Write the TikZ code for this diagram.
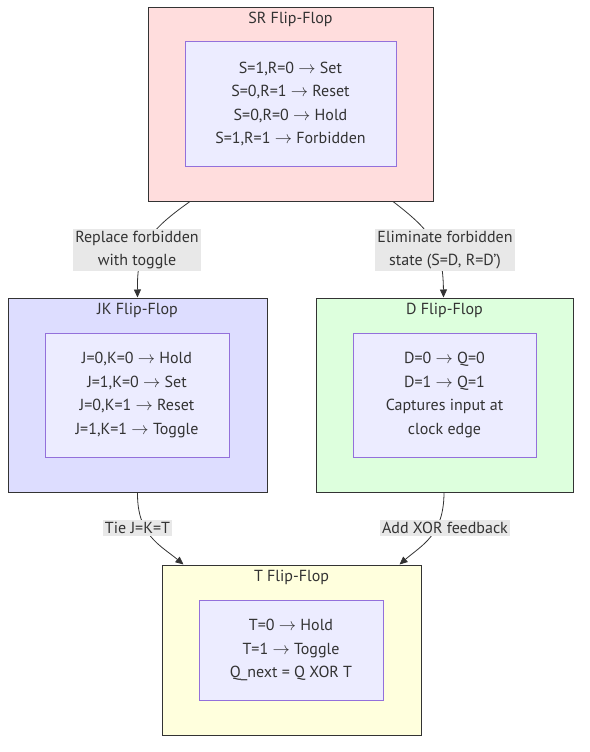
\documentclass[tikz,border=0pt]{standalone}
\usepackage{fontspec}
\setmainfont{PT Sans}
\usetikzlibrary{arrows.meta}

\definecolor{srfill}{HTML}{FFDDDD}
\definecolor{jkfill}{HTML}{DDDDFF}
\definecolor{dfill}{HTML}{DDFFDD}
\definecolor{tfill}{HTML}{FFFFDD}
\definecolor{innerfill}{HTML}{ECECFF}
\definecolor{innerline}{HTML}{9370DB}
\definecolor{darkline}{HTML}{333333}
\definecolor{labelfill}{HTML}{E8E8E8}

\newcommand{\ra}{$\rightarrow$}

\tikzstyle{outerblock} = [rectangle, draw=darkline, line width=1pt, inner sep=0pt]
\tikzstyle{innerblock} = [rectangle, draw=innerline, fill=innerfill, line width=1pt, align=center, text=darkline, font=\fontsize{16}{23.5}\selectfont]
\tikzstyle{titletext} = [text=darkline, font=\fontsize{16}{24}\selectfont]
\tikzstyle{edgelabel} = [rectangle, fill=labelfill, align=center, text=darkline, inner sep=2pt, font=\fontsize{16}{23.5}\selectfont]
\tikzstyle{edge} = [draw=darkline, line width=0.8pt, -{Triangle[length=8pt,width=7pt]}]

\begin{document}
\begin{tikzpicture}[x=1pt, y=-1pt]
\useasboundingbox (0,0) rectangle (589,752);

%Outer blocks
\node (sr) [outerblock, fill=srfill, minimum width=285pt, minimum height=193pt] at (290.5,104.5) {};
\node (jk) [outerblock, fill=jkfill, minimum width=259pt, minimum height=194pt] at (137.5,395) {};
\node (dff) [outerblock, fill=dfill, minimum width=257pt, minimum height=194pt] at (444.5,395) {};
\node (tff) [outerblock, fill=tfill, minimum width=259pt, minimum height=170pt] at (291.5,650) {};

%Titles
\node (srtitle) [titletext] at (290.5,19) {SR Flip-Flop};
\node (jktitle) [titletext] at (137.5,310) {JK Flip-Flop};
\node (dtitle) [titletext] at (444.5,310) {D Flip-Flop};
\node (ttitle) [titletext] at (291.5,577) {T Flip-Flop};

%Inner blocks
\node (srtable) [innerblock, minimum width=211pt, minimum height=124pt] at (290.5,104) {S=1,R=0 \ra{} Set\\ S=0,R=1 \ra{} Reset\\ S=0,R=0 \ra{} Hold\\ S=1,R=1 \ra{} Forbidden};
\node (jktable) [innerblock, minimum width=184pt, minimum height=124pt] at (137,395) {J=0,K=0 \ra{} Hold\\ J=1,K=0 \ra{} Set\\ J=0,K=1 \ra{} Reset\\ J=1,K=1 \ra{} Toggle};
\node (dtable) [innerblock, minimum width=183pt, minimum height=124pt] at (444.5,395) {D=0 \ra{} Q=0\\ D=1 \ra{} Q=1\\ Captures input at\\ clock edge};
\node (ttable) [innerblock, minimum width=184pt, minimum height=100pt] at (291,650) {T=0 \ra{} Hold\\ T=1 \ra{} Toggle\\ Q\_next = Q XOR T};

%Arrows
\draw [edge] ([xshift=-100.5pt]sr.south) .. controls (150,230) and (137,245) .. (jk.north);
\draw [edge] ([xshift=102.5pt]sr.south) .. controls (430,230) and (443,245) .. ([xshift=-1pt]dff.north);
\draw [edge] (jk.south) .. controls (137,535) and (160,545) .. ([xshift=-108pt]tff.north);
\draw [edge] ([xshift=-0.5pt]dff.south) .. controls (444,535) and (422,545) .. ([xshift=108pt]tff.north);

%Edge labels
\node (replacelbl) [edgelabel] at (137,250) {Replace forbidden\\ with toggle};
\node (eliminatelbl) [edgelabel] at (445,250) {Eliminate forbidden\\ state (S=D, R=D')};
\node (tielbl) [edgelabel] at (137.5,528) {Tie J=K=T};
\node (xorlbl) [edgelabel] at (445,528) {Add XOR feedback};
\end{tikzpicture}
\end{document}
